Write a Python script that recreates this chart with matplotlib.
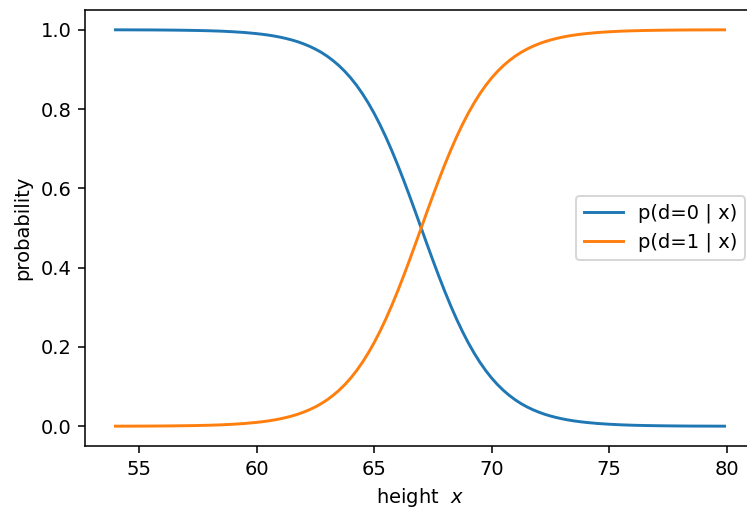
import matplotlib
matplotlib.use("Agg")
import matplotlib.pyplot as plt

# heights (x) and the two posterior probabilities
heights = [54, 54.5, 55, 55.5, 56, 56.5, 57, 57.5, 58, 58.5, 59, 59.5,
           60, 60.25, 60.5, 60.75, 61, 61.25, 61.5, 61.75, 62, 62.25, 62.5, 62.75,
           63, 63.25, 63.5, 63.75, 64, 64.25, 64.5, 64.75, 65, 65.25, 65.5, 65.75,
           66, 66.25, 66.5, 66.75, 67, 67.25, 67.5, 67.75, 68, 68.25, 68.5, 68.75,
           69, 69.25, 69.5, 69.75, 70, 70.25, 70.5, 70.75, 71, 71.25, 71.5, 71.75,
           72, 72.25, 72.5, 72.75, 73, 73.25, 73.5, 73.75, 74,
           74.5, 75, 75.5, 76, 76.5, 77, 77.5, 78, 78.5, 79, 79.5, 79.9]

p_d0 = [0.9998, 0.9997, 0.9996, 0.9995, 0.9993, 0.9990, 0.9986, 0.9981, 0.9974,
        0.9964, 0.9949, 0.9930,
        0.9902, 0.9885, 0.9865, 0.9841, 0.9813, 0.9780, 0.9742, 0.9697, 0.9644,
        0.9583, 0.9512, 0.9430, 0.9334, 0.9223, 0.9097, 0.8952, 0.8787, 0.8600,
        0.8389, 0.8153, 0.7892, 0.7604, 0.7291, 0.6953, 0.6593, 0.6213, 0.5818,
        0.5412, 0.5, 0.4588, 0.4182, 0.3787, 0.3407, 0.3047, 0.2709, 0.2396,
        0.2108, 0.1847, 0.1611, 0.1400, 0.1213, 0.1048, 0.0903, 0.0777, 0.0666,
        0.0570, 0.0488, 0.0417, 0.0356, 0.0303, 0.0258, 0.0220, 0.0187, 0.0159,
        0.0135, 0.0115, 0.0098,
        0.0070, 0.0051, 0.0036, 0.0026, 0.0019, 0.0014, 0.0010, 0.0007, 0.0005,
        0.0004, 0.0003, 0.0002]

p_d1 = [0.0002, 0.0003, 0.0004, 0.0005, 0.0007, 0.0010, 0.0014, 0.0019, 0.0026,
        0.0036, 0.0051, 0.0070,
        0.0098, 0.0115, 0.0135, 0.0159, 0.0187, 0.0220, 0.0258, 0.0303, 0.0356,
        0.0417, 0.0488, 0.0570, 0.0666, 0.0777, 0.0903, 0.1048, 0.1213, 0.1400,
        0.1611, 0.1847, 0.2108, 0.2396, 0.2709, 0.3047, 0.3407, 0.3787, 0.4182,
        0.4588, 0.5, 0.5412, 0.5818, 0.6213, 0.6593, 0.6953, 0.7291, 0.7604,
        0.7892, 0.8153, 0.8389, 0.8600, 0.8787, 0.8952, 0.9097, 0.9223, 0.9334,
        0.9430, 0.9512, 0.9583, 0.9644, 0.9697, 0.9742, 0.9780, 0.9813, 0.9841,
        0.9865, 0.9885, 0.9902,
        0.9930, 0.9949, 0.9964, 0.9974, 0.9981, 0.9986, 0.9990, 0.9993, 0.9995,
        0.9996, 0.9997, 0.9998]

fig = plt.figure(figsize=(747 / 140, 514 / 140), dpi=140)
ax = fig.add_axes([85 / 747, 68 / 514, 670 / 747, 436 / 514])

ax.plot(heights, p_d0, label="p(d=0 | x)")
ax.plot(heights, p_d1, label="p(d=1 | x)")
ax.set_xlabel(r"height  $x$")
ax.set_ylabel("probability")
ax.legend(loc="center right")

fig.savefig("out.png", dpi=140)
